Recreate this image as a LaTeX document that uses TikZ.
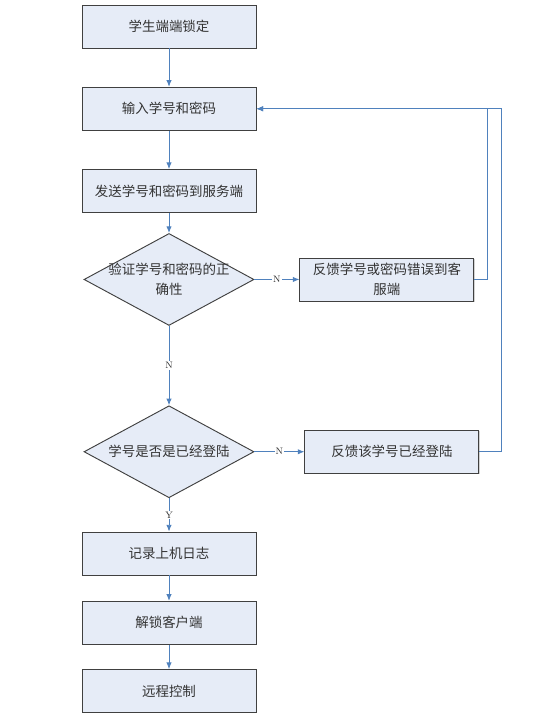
\documentclass[tikz,border=0pt]{standalone}
\usepackage{fontspec}
\newfontfamily\cjk{Noto Sans CJK SC}
\usepackage{xcolor}
\usepackage{tikz}
\usetikzlibrary{arrows.meta, positioning, calc, shapes.geometric, shadows}

\definecolor{boxfill}{RGB}{230,236,247}
\definecolor{boxline}{RGB}{64,64,64}
\definecolor{flowblue}{RGB}{79,129,189}

\begin{document}
\begin{tikzpicture}[
    stepbox/.style={
        rectangle,
        draw=boxline,
        line width=0.8pt,
        fill=boxfill,
        minimum width=5.22cm,
        minimum height=1.29cm,
        align=center,
        text=black!80,
        font=\cjk\fontsize{11.5}{17}\selectfont,
        drop shadow={shadow xshift=0.6pt, shadow yshift=-0.6pt, opacity=0.35}
    },
    check/.style={
        diamond,
        draw=boxline,
        line width=0.8pt,
        fill=boxfill,
        aspect=1.85,
        inner sep=0pt,
        minimum width=5.1cm,
        minimum height=2.76cm
    },
    checktext/.style={align=center, text=black!80, font=\cjk\fontsize{11.5}{17}\selectfont},
    arrow/.style={-{Latex[length=2mm, width=1.6mm]}, flowblue, line width=0.7pt},
    answer/.style={fill=white, text=black!85, inner sep=1pt, font=\fontsize{8}{9}\selectfont}
]
\useasboundingbox (0,0) rectangle (16.71,-21.6);

% Main flow
\node[stepbox] (lock) at (5.07,-0.795) {学生端端锁定};
\node[stepbox, below=1.15cm of lock] (input) {输入学号和密码};
\node[stepbox, below=1.15cm of input] (send) {发送学号和密码到服务端};
\node[check, below=0.6cm of send,
      label={[checktext]center:验证学号和密码的正\\确性}] (verify) {};
\node[check, below=2.38cm of verify,
      label={[checktext]center:学号是否是已经登陆}] (logged) {};
\node[stepbox, below=1.0cm of logged] (record) {记录上机日志};
\node[stepbox, below=0.76cm of record] (unlock) {解锁客户端};
\node[stepbox, below=0.73cm of unlock] (remote) {远程控制};

% Feedback boxes
\node[stepbox, right=1.35cm of verify] (wrong) {反馈学号或密码错误到客\\服端};
\node[stepbox, right=1.5cm of logged] (already) {反馈该学号已经登陆};

\draw[arrow] (lock) -- (input);
\draw[arrow] (input) -- (send);
\draw[arrow] (send) -- (verify);
\draw[arrow] (verify) -- node[answer] {N} (logged);
\draw[arrow] (logged) -- node[answer] {Y} (record);
\draw[arrow] (record) -- (unlock);
\draw[arrow] (unlock) -- (remote);

\draw[arrow] (verify) -- node[answer] {N} (wrong);
\draw[arrow] (logged) -- node[answer] {N} (already);

% Back to input
\draw[arrow] (wrong.east) -- ++(0.39,0) |- (input.east);
\draw[arrow] (already.east) -- ++(0.66,0) |- (input.east);

\end{tikzpicture}
\end{document}
